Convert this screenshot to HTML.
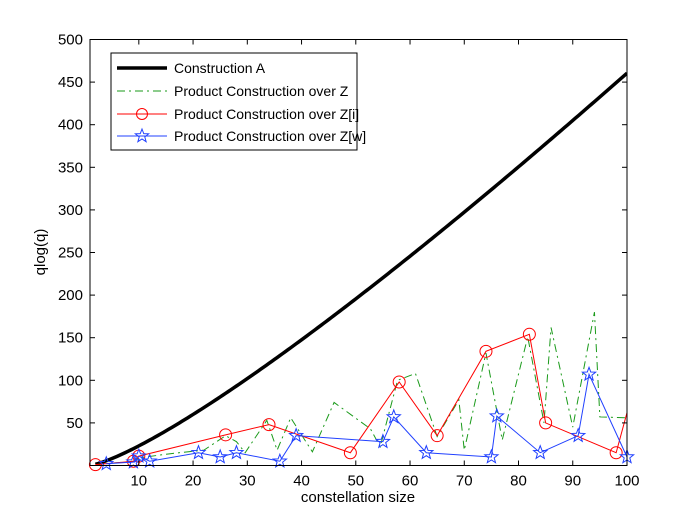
<!DOCTYPE html>
<html><head><meta charset="utf-8"><style>
html,body{margin:0;padding:0;background:#fff;}
svg{display:block;font-family:"Liberation Sans",Arial,sans-serif;}
</style></head><body>
<svg id="chart" width="692" height="521" viewBox="0 0 692 521">
<rect x="0" y="0" width="692" height="521" fill="#fff"/>
<g id="marks"></g>
<g id="axes"></g>
<text x="358" y="502" font-size="15" text-anchor="middle">constellation size</text>
<text transform="translate(45,252) rotate(-90)" font-size="15" text-anchor="middle">qlog(q)</text>
<g>
<rect x="111" y="53" width="246" height="97" fill="#fff" stroke="#000" stroke-width="1"/>
<g>
<line x1="117" y1="68" x2="167" y2="68" stroke="#000" stroke-width="3.5"/>
<text x="174" y="73" font-size="14">Construction A</text></g>
<g>
<line x1="117" y1="91" x2="167" y2="91" stroke="#1a9a1a" stroke-width="1" stroke-dasharray="8,4,2,4"/>
<text x="174" y="96" font-size="14">Product Construction over Z</text></g>
<g>
<line x1="117" y1="114" x2="167" y2="114" stroke="#f00" stroke-width="1"/>
<circle cx="142" cy="114" r="5.5" fill="none" stroke="#f00"/>
<text x="174" y="119" font-size="14">Product Construction over Z[i]</text></g>
<g>
<line x1="117" y1="136" x2="167" y2="136" stroke="#2040ff" stroke-width="1"/>
<path id="legstar" d="" fill="none" stroke="#2040ff"/>
<text x="174" y="141" font-size="14">Product Construction over Z[w]</text></g>
</g>
</svg>
<script>
const xTicks=[10,20,30,40,50,60,70,80,90,100];
const yTicks=[50,100,150,200,250,300,350,400,450,500];
const zX=[2,9,10,16,22,26,28,29.6,33.6,35.5,38,42,46,52.7,54.5,57.7,61,65,69,70,74,77,81.7,84.7,86,90,94,95,100];
const zY=[1,5,9,14,18,35,28,15,53,18,56,16,74,43,22,100,108,34,77,18,132,30,151,50,162,45,180,57,56];
const ziX=[2,9,10,26,34,49,58,65,74,82,85,98,100];
const ziY=[1,5,11,36,48,15,98,35,134,154,50,15,62];
const zwX=[4,9,10,12,21,25,28,36,39,55,57,63,75,76,84,91,93,100];
const zwY=[2,4,11,5,15,10,15,5,35,28,57,15,10,58,15,35,107,10];
const X0=1,X1=100,Y0=0,Y1=500,L=90,R=627,T=39.5,B=465.5;
const sx=v=>L+(v-X0)/(X1-X0)*(R-L);
const sy=v=>B-(v-Y0)/(Y1-Y0)*(B-T);
const NS="http://www.w3.org/2000/svg";
const marks=document.getElementById('marks'),axes=document.getElementById('axes');
function mk(tag,attrs,parent){const e=document.createElementNS(NS,tag);for(const k in attrs)e.setAttribute(k,attrs[k]);parent.appendChild(e);return e;}
function starPath(cx,cy,r){let d='';for(let i=0;i<10;i++){const a=-Math.PI/2+i*Math.PI/5;const rr=i%2?r*0.42:r;d+=(i?'L':'M')+(cx+rr*Math.cos(a)).toFixed(2)+','+(cy+rr*Math.sin(a)).toFixed(2);}return d+'Z';}
document.getElementById('legstar').setAttribute('d',starPath(142,136,7));
// clip
const defs=mk('defs',{},marks);const cp=mk('clipPath',{id:'clip'},defs);mk('rect',{x:L,y:T,width:R-L,height:B-T},cp);
// construction A
let d='';for(let q=2;q<=100;q+=0.5){d+=(q===2?'M':'L')+sx(q).toFixed(2)+','+sy(q*Math.log(q)).toFixed(2);}
const ca=mk('path',{d:d,fill:'none',stroke:'#000','stroke-width':3.5,'clip-path':'url(#clip)'},marks);


function poly(xs,ys,color,dash){return xs.map((x,i)=>(i?'L':'M')+sx(x).toFixed(2)+','+sy(ys[i]).toFixed(2)).join('');}
const gz=mk('path',{d:poly(zX,zY),fill:'none',stroke:'#1a9a1a','stroke-width':1,'stroke-dasharray':'8,4,2,4','clip-path':'url(#clip)'},marks);


const gi=mk('path',{d:poly(ziX,ziY),fill:'none',stroke:'#f00','stroke-width':1,'clip-path':'url(#clip)'},marks);


ziX.forEach((x,i)=>{if(x>=X1)return;const c=mk('circle',{cx:sx(x),cy:sy(ziY[i]),r:6,fill:'none',stroke:'#f00'},marks);

});
const gw=mk('path',{d:poly(zwX,zwY),fill:'none',stroke:'#2040ff','stroke-width':1},marks);


zwX.forEach((x,i)=>{const s=mk('path',{d:starPath(sx(x),sy(zwY[i]),7),fill:'none',stroke:'#2040ff'},marks);

});
// frame
mk('rect',{x:L,y:T,width:R-L,height:B-T,fill:'none',stroke:'#000','stroke-width':1},axes);
xTicks.forEach(v=>{const x=sx(v);
mk('line',{x1:x,y1:B,x2:x,y2:B-5,stroke:'#000'},axes);
mk('line',{x1:x,y1:T,x2:x,y2:T+5,stroke:'#000'},axes);
const t=mk('text',{x:x,y:B+20,'font-size':15,'text-anchor':'middle'},axes);t.textContent=v;

});
yTicks.forEach(v=>{const y=sy(v);
mk('line',{x1:L,y1:y,x2:L+5,y2:y,stroke:'#000'},axes);
mk('line',{x1:R,y1:y,x2:R-5,y2:y,stroke:'#000'},axes);
const t=mk('text',{x:L-7,y:y+5,'font-size':15,'text-anchor':'end'},axes);t.textContent=v;

});
</script>
</body></html>
